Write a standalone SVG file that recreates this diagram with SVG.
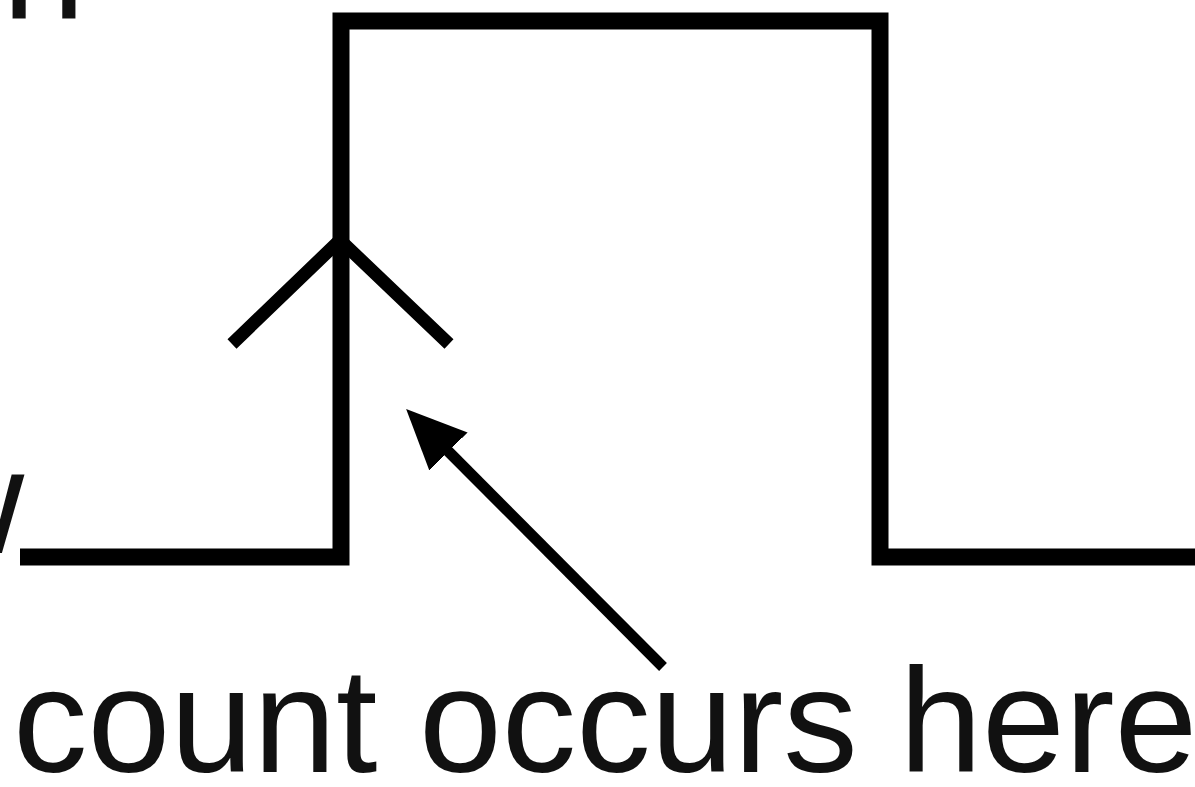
<svg xmlns="http://www.w3.org/2000/svg" width="1195" height="787" viewBox="0 0 1195 787">
<style>
.t{font-family:"Liberation Sans",Arial,sans-serif;font-size:149px;fill:#111}
.w{fill:none;stroke:#000;stroke-width:17;stroke-linejoin:miter;stroke-linecap:butt}
</style>
<defs>
<marker id="ah" viewBox="0 0 10 10" refX="2" refY="5" markerWidth="60" markerHeight="60" markerUnits="userSpaceOnUse" orient="auto">
<path d="M0,0.5 L10,5 L0,9.5 Z" fill="#000"/>
</marker>
</defs>
<rect width="1195" height="787" fill="#fff"/>
<g id="labels">
<text class="t" x="85" y="19" text-anchor="end">high</text>
<text class="t" x="24" y="553" text-anchor="end">low</text>
</g>
<g id="waveform">
<polyline class="w" points="20,557 341,557 341,21 880,21 880,557 1200,557"/>
</g>
<g id="edge-arrow">
<polyline fill="none" stroke="#000" stroke-width="13" points="232,344 340,240 449,344"/>
</g>
<g id="connectors">
<line x1="663" y1="667" x2="440" y2="443" stroke="#000" stroke-width="11" marker-end="url(#ah)"/>
</g>
<g id="caption">
<text class="t" x="13" y="772">count occurs here</text>
</g>
</svg>
